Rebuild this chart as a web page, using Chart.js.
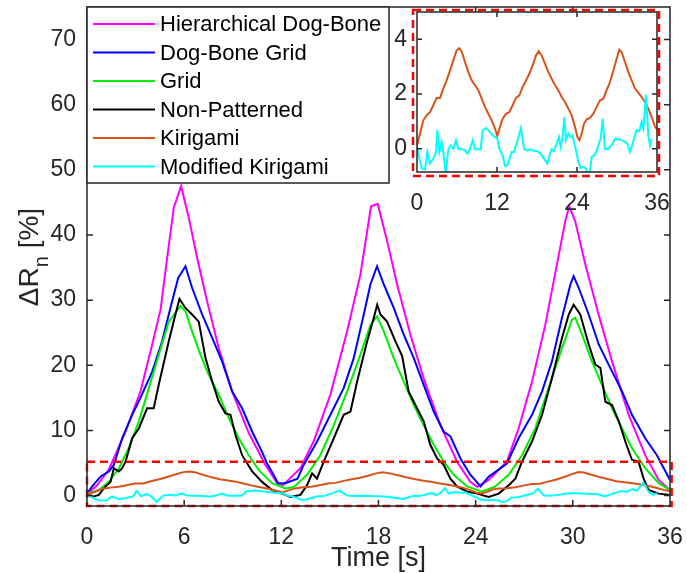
<!DOCTYPE html>
<html>
<head>
<meta charset="utf-8">
<script src="https://cdn.jsdelivr.net/npm/chart.js@4.4.1/dist/chart.umd.min.js"></script>
<style>
  html, body { margin: 0; padding: 0; background: #fff; }
  #wrap { position: relative; width: 687px; height: 573px; background: #fff; }
  #wrap canvas { position: absolute; left: 0; top: 0; }
  #inset { pointer-events: none; }
</style>
</head>
<body>
<div id="wrap">
  <canvas id="main" width="687" height="573"></canvas>
  <canvas id="inset" width="687" height="573"></canvas>
</div>
<script>
// [time s, dR %] per sample
var hierarchical = [[0,0.3],[0.6,1.5],[1.35,4.0],[2.38,9.8],[3.3,16],[3.92,22.1],[4.54,28.5],[4.95,36.5],[5.36,44.2],[5.81,47.5],[6.29,42.6],[6.8,36.5],[7.42,29.8],[8.14,22.6],[8.96,16],[9.99,9.6],[11.02,4.7],[11.74,1.9],[12.1,1.6],[13.18,4.2],[13.99,8.3],[15.03,15.5],[16.06,25.2],[16.88,33.9],[17.54,44.4],[17.95,44.8],[18.53,39.1],[19.15,32.4],[19.97,24.7],[20.79,18],[21.82,10.8],[22.85,5.2],[23.67,2.1],[24.1,1.35],[24.8,2.4],[25.93,5.2],[26.65,10.3],[27.48,17.5],[28.3,26.2],[29.02,35.5],[29.53,42.1],[29.78,44.4],[30.15,42.1],[30.77,35.5],[31.59,27.8],[32.42,20.6],[33.45,12.4],[34.47,6.2],[35.3,2.4],[36,0.85]];

var dogBoneGrid = [[0,0.3],[0.32,1.4],[0.83,2.9],[1.35,3.7],[1.66,4.7],[2.17,8.8],[2.79,12.4],[3.3,15],[4.02,19],[4.64,23.7],[5.15,28.8],[5.63,33.4],[6.08,35.2],[6.49,31.9],[7.11,27.8],[7.73,24.2],[8.34,20.6],[8.96,16],[9.58,13.4],[10.2,9.8],[10.81,6.7],[11.1,5],[11.45,3.5],[11.8,1.9],[12.25,1.9],[13.0,2.6],[13.38,4.7],[14.21,8.3],[15.03,12.4],[15.85,16.5],[16.47,21.1],[17.09,27.8],[17.5,32.4],[17.91,35.2],[18.33,32.4],[18.94,28.8],[19.56,24.7],[20.18,21.1],[20.79,17],[21.41,12.9],[22.03,9.8],[22.44,9.1],[23.06,5.7],[23.67,3.2],[24.3,1.4],[24.8,2.9],[25.93,4.9],[26.65,8.8],[27.48,12.4],[28.1,16],[28.71,20.6],[29.33,27.3],[29.85,32.4],[30.05,33.7],[30.36,31.9],[30.98,27.8],[31.6,23.2],[32.21,20.1],[33.04,16],[33.65,12.4],[34.47,8.8],[35.19,6.2],[36,2.4]];

var grid = [[0,0.3],[0.73,0.85],[1.35,2.1],[1.97,4.2],[2.58,7.3],[3.2,11.4],[3.82,16.5],[4.43,21.6],[5.05,26.7],[5.77,29.1],[6.08,28.3],[6.49,25.2],[7.01,21.6],[7.52,18.5],[8.14,15.5],[8.76,11.9],[9.37,8.8],[9.99,6.2],[10.61,3.9],[11.43,1.9],[12.25,1.1],[12.77,1.3],[13.59,3.2],[14.41,6.2],[15.24,10.8],[16.06,16],[16.88,21.6],[17.5,26.2],[17.91,27.5],[18.33,25.2],[18.94,21.1],[19.56,17.5],[20.18,13.9],[20.79,10.8],[21.41,7.8],[22.03,5.2],[22.64,3.2],[23.47,1.4],[24.39,0.6],[25.21,1.4],[26.04,3.2],[26.86,6.2],[27.68,10.3],[28.5,16.5],[29.33,22.6],[29.95,27],[30.15,27.3],[30.57,24.7],[31.18,20.6],[31.8,17],[32.42,13.4],[33.04,10.3],[33.65,7.3],[34.47,4.2],[35.3,1.9],[36,0.85]];

var nonPatterned = [[0,0.3],[0.32,-0.2],[0.73,0.1],[1.14,1.4],[1.45,2.1],[1.66,4.2],[1.97,3.7],[2.17,4.2],[2.38,5.2],[2.79,8.8],[3.2,10.3],[3.71,13.4],[4.12,13.4],[4.43,17],[5.05,23.7],[5.46,27.8],[5.71,30.2],[6.08,28.8],[6.49,27.8],[6.9,26.7],[7.32,21.1],[7.73,17.5],[8.14,14.4],[8.55,12.6],[8.86,12.4],[9.17,9.3],[9.58,6.2],[10.2,3.7],[10.81,2.1],[11.43,0.85],[12.05,0.3],[12.56,-0.2],[13.18,0.1],[13.59,1.6],[13.9,3.4],[14.2,2.6],[14.62,5.2],[15.24,8.8],[15.85,12.4],[16.27,12.9],[16.68,17.5],[17.3,23.7],[17.71,27.3],[17.92,29.3],[18.12,27.8],[18.53,26.7],[19.04,23.7],[19.46,21.4],[19.86,16],[20.38,13.4],[20.79,11.4],[21.2,7.8],[21.62,5.7],[22.03,4.7],[22.44,2.6],[22.85,1.4],[23.47,0.6],[24.09,0.3],[24.8,-0.2],[25.42,0.3],[26.04,1.6],[26.45,2.6],[26.86,5.2],[27.48,8.3],[28.1,12.4],[28.71,18],[29.33,24.2],[29.75,27.8],[30.05,29.3],[30.46,27.8],[30.98,23.2],[31.39,20.1],[31.7,19.6],[32.01,14.4],[32.42,13.9],[32.84,11.4],[33.24,8.3],[33.65,5.5],[34.06,5.2],[34.37,2.6],[34.68,0.85],[35.3,0.3],[36,0.1]];

var kirigami = [[0,0.13],[0.45,0.55],[0.95,1.04],[1.45,1.22],[1.95,1.34],[2.45,1.59],[2.95,1.86],[3.45,1.86],[3.95,2.2],[4.45,2.5],[4.95,2.86],[5.45,3.23],[5.95,3.6],[6.35,3.68],[6.7,3.56],[7.2,3.17],[7.7,2.8],[8.2,2.5],[8.7,2.32],[9.2,2.14],[9.7,1.83],[10.2,1.53],[10.7,1.28],[11.2,1.04],[11.7,0.74],[12.05,0.47],[12.45,0.8],[12.85,1.1],[13.35,1.28],[13.85,1.34],[14.35,1.59],[14.85,1.86],[15.35,1.95],[15.85,2.26],[16.35,2.5],[16.85,2.74],[17.35,3.05],[17.85,3.41],[18.25,3.57],[18.7,3.41],[19.2,3.11],[19.7,2.8],[20.2,2.56],[20.7,2.32],[21.2,2.14],[21.7,1.89],[22.2,1.71],[22.7,1.47],[23.2,1.22],[23.7,0.8],[24.05,0.43],[24.35,0.31],[24.7,0.55],[25.05,0.92],[25.45,1.08],[25.95,1.13],[26.45,1.28],[26.95,1.53],[27.45,1.77],[27.95,1.83],[28.45,2.14],[28.95,2.44],[29.45,2.86],[29.95,3.29],[30.35,3.62],[30.7,3.53],[31.2,3.17],[31.7,2.8],[32.2,2.5],[32.7,2.2],[33.2,2.05],[33.7,1.89],[34.2,1.71],[34.7,1.47],[35.2,1.16],[35.7,0.8],[36,0.71]];

var modifiedKirigami = [[0,0.07],[0.7,-0.72],[1.2,-0.75],[1.55,-0.12],[1.95,-0.54],[2.45,-0.36],[2.85,-0.12],[3.05,0.68],[3.35,-0.12],[3.7,0.25],[3.95,-0.12],[4.3,-0.95],[4.7,0],[5.05,0.13],[5.45,0],[5.85,0.31],[6.2,0],[6.7,-0.02],[7.2,-0.05],[7.55,-0.18],[7.95,0],[8.35,0.31],[8.7,-0.02],[9.2,-0.02],[9.55,-0.02],[9.85,0.68],[10.35,0.76],[10.95,0.61],[11.45,0.47],[12.05,0.37],[12.35,0],[12.85,-0.24],[13.2,-0.63],[13.55,-0.6],[13.85,-0.38],[14.2,-0.12],[14.55,-0.12],[14.95,0.19],[15.6,0.76],[16.05,0],[16.55,-0.07],[17.05,-0.02],[17.55,-0.07],[18.05,-0.09],[18.55,-0.18],[19.05,-0.36],[19.55,-0.54],[19.95,-0.18],[20.2,-0.02],[20.55,-0.08],[21.05,0.25],[21.3,0.43],[21.55,0.07],[21.85,0.43],[22.1,1.16],[22.35,0.31],[22.7,0.55],[23.05,0.43],[23.35,0.49],[23.55,0.25],[23.8,0],[24.2,-0.48],[24.55,-0.7],[24.95,-0.66],[25.3,-0.72],[25.7,-0.97],[25.95,-0.82],[26.2,-0.3],[26.55,-0.24],[26.85,-0.12],[27.2,0.12],[27.55,0.37],[27.85,1.1],[28.2,0],[28.55,-0.02],[28.95,0.07],[29.35,0.19],[29.7,0.37],[30.05,0.35],[30.55,0.33],[31.2,0.25],[31.55,0.19],[31.95,-0.12],[32.35,0.19],[32.7,0.49],[32.95,0.68],[33.35,0.64],[33.7,0.98],[33.95,0.74],[34.35,1.98],[34.7,0.49],[34.95,0.12],[35.2,0.37]];

var seriesNames = ['Hierarchical Dog-Bone', 'Dog-Bone Grid', 'Grid', 'Non-Patterned', 'Kirigami', 'Modified Kirigami'];
var seriesColors = ['#ff00ff', '#0000ff', '#00ee00', '#000000', '#d95319', '#00ffff'];
var seriesData = [hierarchical, dogBoneGrid, grid, nonPatterned, kirigami, modifiedKirigami];

var xTicks = [0, 6, 12, 18, 24, 30, 36];
var yTicks = [0, 10, 20, 30, 40, 50, 60, 70];
var insetXTicks = [0, 12, 24, 36];
var insetYTicks = [0, 2, 4];
// region of the main axes shown magnified in the inset
var zoomT = [0, 36.1];
var zoomV = [-1.6, 5.2];

var FONT = '"Liberation Sans", Arial, Helvetica, sans-serif';
var AXIS = '#262626';

function makeSet(i) {
  return {
    label: seriesNames[i],
    data: seriesData[i].map(function (p) { return { x: p[0], y: p[1] }; }),
    borderColor: seriesColors[i],
    borderWidth: 2,
    pointRadius: 0,
    tension: 0,
    fill: false,
    order: seriesNames.length - i
  };
}

function fixTicks(list) {
  return function (axis) { axis.ticks = list.map(function (v) { return { value: v }; }); };
}

// inward ticks on all four sides plus the box, MATLAB style
var framePlugin = {
  id: 'frame',
  beforeDatasetsDraw: function (chart) {
    var a = chart.chartArea, ctx = chart.ctx;
    ctx.save();
    ctx.fillStyle = '#fff';
    ctx.fillRect(a.left, a.top, a.right - a.left, a.bottom - a.top);
    ctx.restore();
  },
  afterDatasetsDraw: function (chart, args, opts) {
    var ctx = chart.ctx, a = chart.chartArea, xs = chart.scales.x, ys = chart.scales.y;
    var L = opts.tick;
    ctx.save();
    ctx.strokeStyle = '#ff0000';
    ctx.lineWidth = 2.5;
    ctx.setLineDash([8, 5]);
    if (opts.zoomBox) {
      var x0 = xs.getPixelForValue(zoomT[0]), x1 = xs.getPixelForValue(zoomT[1]);
      var y0 = ys.getPixelForValue(zoomV[0]), y1 = ys.getPixelForValue(zoomV[1]);
      ctx.strokeRect(x0, y1, x1 - x0, y0 - y1);
    }
    if (opts.outline) {
      var o = opts.outline;
      ctx.strokeRect(a.left - o[0], a.top - o[1], a.right - a.left + o[0] + o[2], a.bottom - a.top + o[1] + o[3]);
    }
    ctx.setLineDash([]);
    ctx.strokeStyle = AXIS;
    ctx.lineWidth = 1.5;
    ctx.beginPath();
    xs.ticks.forEach(function (t) {
      var p = xs.getPixelForValue(t.value);
      ctx.moveTo(p, a.bottom); ctx.lineTo(p, a.bottom - L);
      ctx.moveTo(p, a.top); ctx.lineTo(p, a.top + L);
    });
    ys.ticks.forEach(function (t) {
      var p = ys.getPixelForValue(t.value);
      ctx.moveTo(a.left, p); ctx.lineTo(a.left + L, p);
      ctx.moveTo(a.right, p); ctx.lineTo(a.right - L, p);
    });
    ctx.rect(a.left, a.top, a.right - a.left, a.bottom - a.top);
    ctx.stroke();
    ctx.restore();
  }
};

// boxed legend in the upper left corner of the axes
var boxLegend = {
  id: 'boxLegend',
  afterDraw: function (chart, args, o) {
    if (!o.show) return;
    var ctx = chart.ctx, a = chart.chartArea;
    var left = a.left, top = a.top;
    ctx.save();
    ctx.fillStyle = '#fff';
    ctx.fillRect(left, top, o.width, o.height);
    ctx.strokeStyle = AXIS;
    ctx.lineWidth = 1.5;
    ctx.strokeRect(left, top, o.width, o.height);
    ctx.font = o.fontSize + 'px ' + FONT;
    ctx.textBaseline = 'middle';
    chart.data.datasets.forEach(function (ds, i) {
      var cy = top + o.first + i * o.row;
      ctx.strokeStyle = ds.borderColor;
      ctx.lineWidth = 2;
      ctx.beginPath();
      ctx.moveTo(left + 6, cy);
      ctx.lineTo(left + 68, cy);
      ctx.stroke();
      ctx.fillStyle = '#000';
      ctx.fillText(ds.label, left + 73, cy + 1);
    });
    ctx.restore();
  }
};

// rotated y title with subscript n
var yTitle = {
  id: 'yTitle',
  afterDraw: function (chart, args, o) {
    if (!o.show) return;
    var ctx = chart.ctx;
    var big = '28px ' + FONT, small = '20px ' + FONT;
    ctx.save();
    ctx.translate(o.x, o.y);
    ctx.rotate(-Math.PI / 2);
    ctx.fillStyle = AXIS;
    ctx.textBaseline = 'alphabetic';
    ctx.font = big;
    var w1 = ctx.measureText('\u0394R').width, w3 = ctx.measureText(' [%]').width;
    ctx.font = small;
    var w2 = ctx.measureText('n').width;
    var x = -(w1 + w2 + w3) / 2;
    ctx.font = big; ctx.fillText('\u0394R', x, 0);
    ctx.font = small; ctx.fillText('n', x + w1, 10);
    ctx.font = big; ctx.fillText(' [%]', x + w1 + w2, 0);
    ctx.restore();
  }
};

function axisX(list, min, max, height, title) {
  return {
    type: 'linear', min: min, max: max, bounds: 'data',
    afterBuildTicks: fixTicks(list),
    afterFit: function (s) { s.height = height; s.paddingLeft = 0; s.paddingRight = 0; },
    grid: { display: false, drawTicks: false },
    border: { display: false },
    ticks: { autoSkip: false, maxRotation: 0, padding: 18, color: AXIS, font: { family: FONT, size: 23 } },
    title: title ? { display: true, text: title, color: AXIS, font: { family: FONT, size: 27, lineHeight: 1 }, padding: { top: 0, bottom: 1 } } : { display: false }
  };
}

function axisY(list, min, max, width, pad) {
  return {
    type: 'linear', min: min, max: max, bounds: 'data',
    afterBuildTicks: fixTicks(list),
    afterFit: function (s) { s.width = width; s.paddingTop = 0; s.paddingBottom = 0; },
    grid: { display: false, drawTicks: false },
    border: { display: false },
    ticks: { autoSkip: false, padding: pad, color: AXIS, font: { family: FONT, size: 23 } }
  };
}

new Chart(document.getElementById('main'), {
  type: 'line',
  data: { datasets: [0, 1, 2, 3, 4, 5].map(makeSet) },
  options: {
    responsive: false,
    animation: false,
    devicePixelRatio: 1,
    layout: { padding: { left: 0, top: 7, right: 17, bottom: 0 } },
    scales: {
      x: axisX(xTicks, 0, 36, 67, 'Time [s]'),
      y: axisY(yTicks, -1.6, 75, 87, 11)
    },
    plugins: {
      legend: { display: false },
      tooltip: { enabled: false },
      frame: { tick: 6, zoomBox: true },
      boxLegend: { show: true, width: 302, height: 176, first: 17, row: 28.5, fontSize: 22 },
      yTitle: { show: true, x: 38, y: 257 }
    }
  },
  plugins: [framePlugin, boxLegend, yTitle]
});

new Chart(document.getElementById('inset'), {
  type: 'line',
  data: { datasets: [4, 5].map(makeSet) },
  options: {
    responsive: false,
    animation: false,
    devicePixelRatio: 1,
    layout: { padding: { left: 380, top: 12, right: 30, bottom: 351 } },
    scales: {
      x: axisX(insetXTicks, 0, 36, 50, null),
      y: axisY(insetYTicks, -0.85, 5, 37, 10)
    },
    plugins: {
      legend: { display: false },
      tooltip: { enabled: false },
      frame: { tick: 5, outline: [4, 2, 2, 4] }
    }
  },
  plugins: [framePlugin]
});
</script>
</body>
</html>
